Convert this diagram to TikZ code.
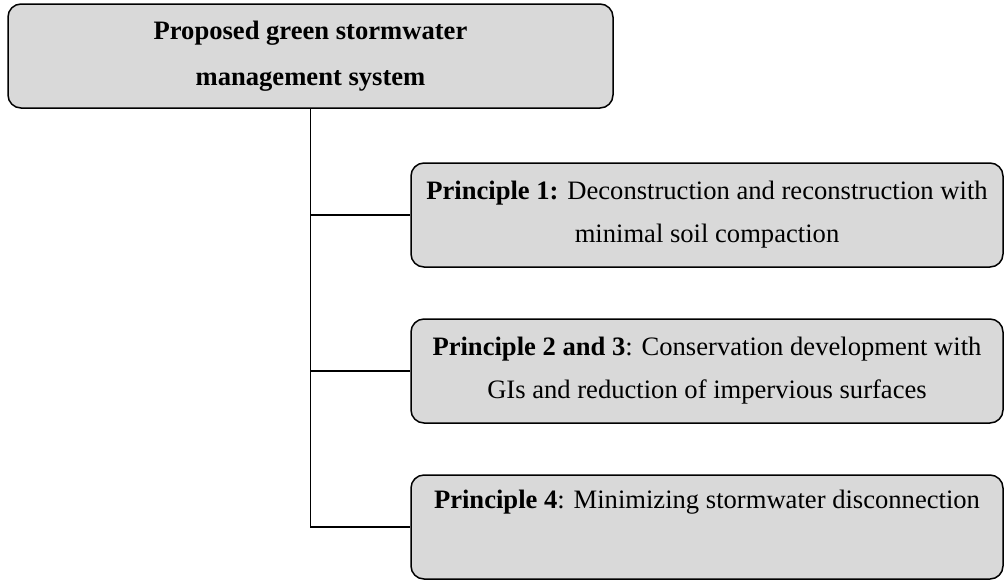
\documentclass[tikz,border=0pt]{standalone}
\usepackage{fontspec}
\setmainfont{Liberation Serif}
\usepackage{tikz}
\usetikzlibrary{positioning}
\usetikzlibrary{shapes.misc}

\definecolor{boxgray}{RGB}{217,217,217}
\tikzset{
  box/.style={draw, line width=0.75pt, rounded corners=6.5pt, fill=boxgray,
    minimum height=52pt, align=center, inner sep=0pt,
    font=\fontsize{13.3}{21.5}\selectfont},
  link/.style={line width=0.7pt}
}

\begin{document}
\begin{tikzpicture}[node distance=78pt]
  \useasboundingbox (0,0) rectangle (503pt,-289.5pt);
  \node[box, minimum width=302.5pt, font=\fontsize{13.3}{23}\selectfont\bfseries] (main) at (155.25pt,-28pt) {Proposed green stormwater\\management system};
  \node[box, minimum width=296pt, below of=main, xshift=198.25pt, yshift=-1.5pt] (p1) {\textbf{Principle 1:} Deconstruction and reconstruction with\\minimal soil compaction};
  \node[box, minimum width=296pt, below of=p1] (p2) {\textbf{Principle 2 and 3}: Conservation development with\\GIs and reduction of impervious surfaces};
  \node[box, minimum width=296pt, below of=p2] (p3) {\textbf{Principle 4}: Minimizing stormwater disconnection\\\strut};

  \draw[link, line width=0.9pt] (main.south) -- (main.south |- p1.west);
  \draw[link] (main.south |- p1.west) -- (p1.west);
  \draw[link] (main.south |- p1.west) |- (p2.west);
  \draw[link] (main.south |- p2.west) |- (p3.west);
\end{tikzpicture}
\end{document}
